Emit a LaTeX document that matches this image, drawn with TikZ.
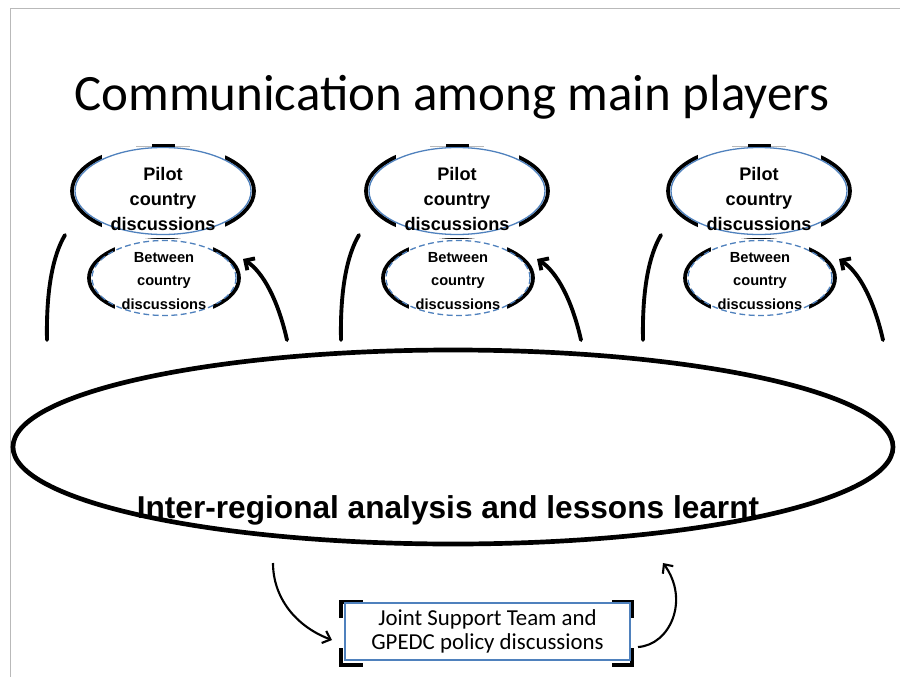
\documentclass[tikz,border=0pt]{standalone}
\usepackage{fontspec}
\setmainfont{Carlito}
\newfontfamily\blurfont{Liberation Sans}
\usetikzlibrary{arrows.meta,shapes.geometric}
\definecolor{offblue}{RGB}{79,129,189}
\definecolor{framegray}{RGB}{185,185,185}

\begin{document}
\begin{tikzpicture}
  [x=0.03cm,y=-0.03cm,
   blackring/.style={draw=black,line width=3.2pt},
   pilotring/.style={ellipse,draw=offblue,line width=1.1pt,minimum width=5.28cm,minimum height=2.61cm,inner sep=0pt},
   betweenring/.style={ellipse,draw=offblue,line width=1.1pt,dash pattern=on 5pt off 3pt,minimum width=4.32cm,minimum height=2.25cm,inner sep=0pt},
   smudge/.style={align=center,inner sep=0pt,font=\blurfont\bfseries\fontsize{15.5}{21}\selectfont},
   sweep/.style={line width=3.3pt,line cap=round},
   flow/.style={line width=1.8pt,-{Straight Barb[length=6pt,width=11pt]}}]
  \useasboundingbox (0,0) rectangle (900,677);
  \draw[framegray,line width=0.8pt] (10,677) -- (10,8) -- (900,8);

  \node[font=\fontsize{43.5}{50}\selectfont] (title) at (452,97) {Communication among main players};

  % three pilot countries
  \foreach \i/\c in {1/163,2/457,3/759} {
    \draw[blackring] (\c,191) ellipse [x radius=91, y radius=46];
    \fill[white] (\c-61,140) rectangle (\c+62,238);
    \node[pilotring] (pilot\i) at (\c,191) {};
    \node[smudge] (pilottxt\i) at (\c,199) {Pilot\\country\\discussions};
    \draw[framegray,line width=0.6pt] (\c-27,146) -- (\c+27,146);
    \draw[line width=2.5pt] (\c-11,145.5) -- (\c+12,145.5);

    \draw[blackring] (\c+1,278) ellipse [x radius=75, y radius=38];
    \fill[white] (\c-48,239) rectangle (\c+50,320);
    \node[betweenring] (between\i) at (\c+1,278) {};
    \node[smudge,font=\blurfont\bfseries\fontsize{12.5}{20}\selectfont] (betweentxt\i) at (\c+1,281) {Between\\country\\discussions};

    \coordinate (ltop\i) at (\c-98,235);
    \coordinate (lbot\i) at (\c-116,340);
    \draw[sweep] (ltop\i) .. controls (\c-110,255) and (\c-117,290) .. (lbot\i);
    \coordinate (rbot\i) at (\c+124,340);
    \coordinate (rtip\i) at (\c+80,259);
    \draw[sweep,-{Straight Barb[length=6pt,width=12pt]}] (rbot\i) .. controls (\c+115,300) and (\c+100,272) .. (rtip\i);
  }

  \node[ellipse,draw,line width=4pt,minimum width=26.4cm,minimum height=5.82cm] (bigring) at (453,447) {};
  \node[smudge,font=\blurfont\bfseries\fontsize{27}{30}\selectfont] (bigtxt) at (448,510) {Inter-regional analysis and lessons learnt};

  % joint support team box
  \draw[line width=3pt] (341,618) -- (341,602) -- (363,602)
    (612,602) -- (632,602) -- (632,618)
    (341,648) -- (341,665) -- (363,665)
    (612,665) -- (632,665) -- (632,648);
  \node[draw=offblue,line width=1.4pt,fill=white,minimum width=8.55cm,minimum height=1.71cm,align=center,
    font=\fontsize{19.5}{21}\selectfont] (jst) at (487.5,631.5) {Joint Support Team and\\GPEDC policy discussions};

  \coordinate (dropstart) at (273,563);
  \coordinate (dropend) at (332,640);
  \draw[flow] (dropstart) .. controls (273,597) and (295,626) .. (dropend);
  \coordinate (risestart) at (638,647);
  \coordinate (risetip) at (663,563);
  \draw[flow] (risestart) .. controls (670,645) and (690,600) .. (risetip);
\end{tikzpicture}
\end{document}
